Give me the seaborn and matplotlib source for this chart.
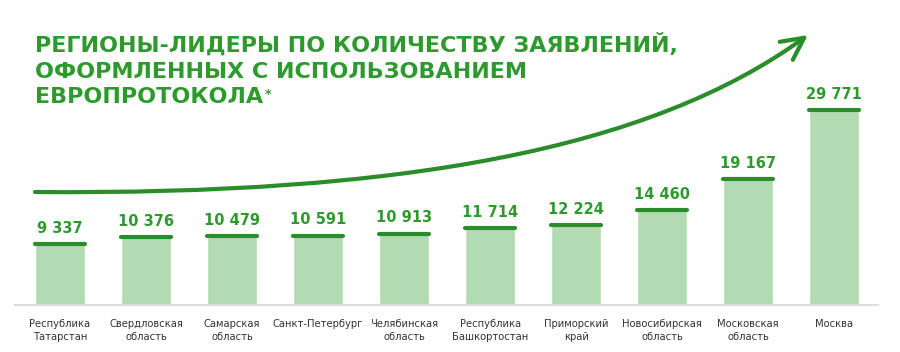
import matplotlib.pyplot as plt
import numpy as np
import seaborn as sns
from matplotlib.patches import FancyArrowPatch
from matplotlib.path import Path

regions = [
    "Республика\nТатарстан",
    "Свердловская\nобласть",
    "Самарская\nобласть",
    "Санкт-Петербург",
    "Челябинская\nобласть",
    "Республика\nБашкортостан",
    "Приморский\nкрай",
    "Новосибирская\nобласть",
    "Московская\nобласть",
    "Москва",
]
claims = [9337, 10376, 10479, 10591, 10913, 11714, 12224, 14460, 19167, 29771]

title_lines = [
    "РЕГИОНЫ-ЛИДЕРЫ ПО КОЛИЧЕСТВУ ЗАЯВЛЕНИЙ,",
    "ОФОРМЛЕННЫХ С ИСПОЛЬЗОВАНИЕМ",
    "ЕВРОПРОТОКОЛА",
]

GREEN = "#2e9a2e"
DARK_GREEN = "#2a8c2a"
FILL = "#b2dbb1"

sns.set_style("white")
plt.rcParams["font.family"] = ["DejaVu Sans"]

W, H = 900, 352
fig = plt.figure(figsize=(W / 100, H / 100), dpi=100)

# axes: x 15..878 px, baseline at y=305 px, top at y=20 px
ax = fig.add_axes([15 / W, (H - 305) / H, 863 / W, 285 / H])
sns.barplot(x=list(range(len(claims))), y=claims, color=FILL, width=0.58,
            saturation=1, ax=ax)
ax.set_xlim(-0.523, 9.51)
ax.set_ylim(0, 29771 / 195 * 285)

# dark top edge + value labels
for i, v in enumerate(claims):
    ax.hlines(v, i - 0.29, i + 0.29, color=DARK_GREEN, lw=3, capstyle="round")
    ax.annotate(f"{v:,}".replace(",", " "), (i, v), xytext=(0, 6),
                textcoords="offset points", ha="center", va="bottom",
                fontsize=10.5, fontweight="bold", color=GREEN)

ax.set_xticks(range(len(regions)))
ax.set_xticklabels(regions, fontsize=7.2, color="#333333", linespacing=1.45)
ax.tick_params(axis="x", length=0, pad=10)
ax.set_yticks([])
ax.set_xlabel("")
ax.set_ylabel("")
for side in ["left", "right", "top"]:
    ax.spines[side].set_visible(False)
ax.spines["bottom"].set_color("#dddddd")
ax.spines["bottom"].set_linewidth(1.5)

# title
last = None
for k, line in enumerate(title_lines):
    last = fig.text(35 / W, 1 - (52 + k * 25.5) / H, line, ha="left",
                    va="baseline", fontsize=16, fontweight="bold", color=GREEN)
fig.canvas.draw()
bb = last.get_window_extent()
fig.text(bb.x1 / W + 2 / W, 1 - 88 / H, "*", ha="left", va="top",
         fontsize=9, fontweight="bold", color=GREEN)


# growth arrow (decoration) in pixel coordinates, y flipped
def px(x, y):
    return (x / W, 1 - y / H)


curve = Path([px(35, 192), px(400, 195), px(650, 150), px(808, 35)],
             [Path.MOVETO, Path.CURVE4, Path.CURVE4, Path.CURVE4])
arrow = FancyArrowPatch(path=curve, transform=fig.transFigure,
                        arrowstyle="->,head_length=1.0,head_width=0.5",
                        mutation_scale=16, color=DARK_GREEN, lw=3,
                        capstyle="round", joinstyle="round")
fig.patches.append(arrow)

fig.savefig("out.png", dpi=100, facecolor="white")
